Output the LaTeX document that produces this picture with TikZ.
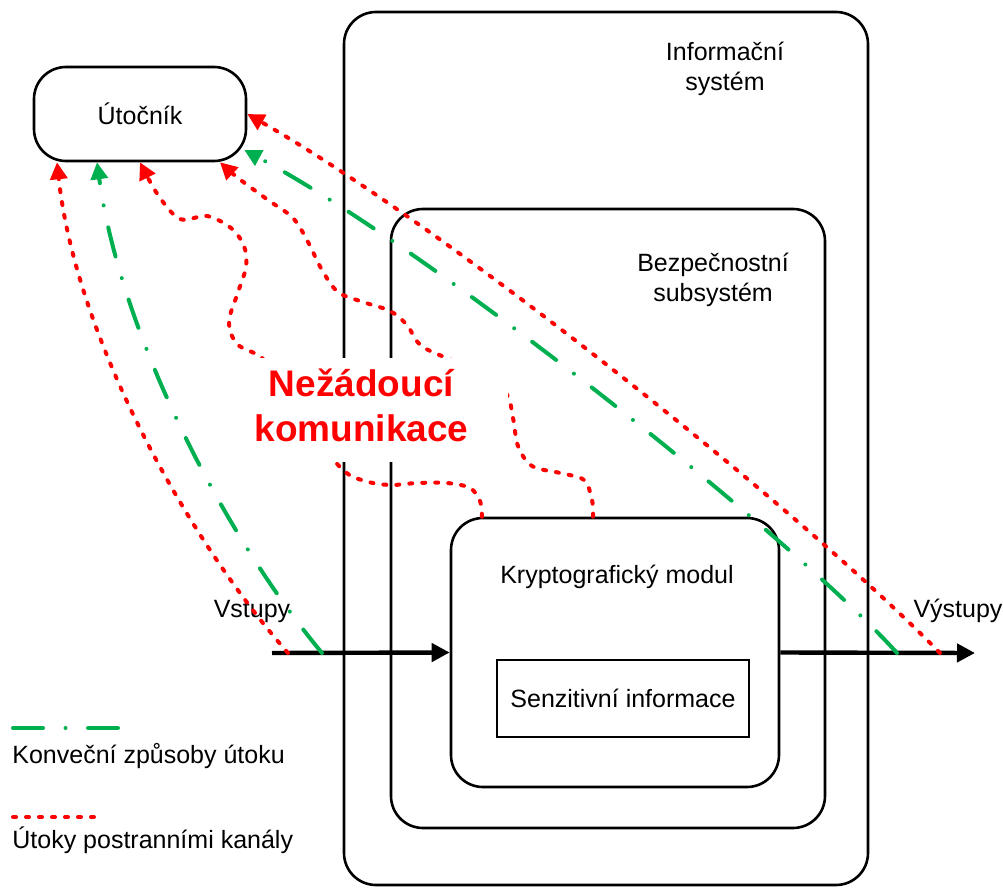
\documentclass[tikz,border=0pt]{standalone}
\usepackage{fontspec}
\setmainfont{Liberation Sans}
\usetikzlibrary{arrows.meta}
\definecolor{convgreen}{RGB}{0,176,80}
\definecolor{sidered}{RGB}{255,0,0}
\begin{document}
\begin{tikzpicture}[
    x=0.5pt, y=-0.5pt,
    font=\fontsize{12.5}{15}\selectfont,
    box/.style={draw, line width=1.3pt, rounded corners=16pt},
    txt/.style={align=center, inner sep=0pt},
    flow/.style={-{Triangle[length=9pt,width=9pt]}, line width=2.2pt},
    atk/.style={-{Triangle[length=8.5pt,width=8.5pt]}},
    convatk/.style={draw=convgreen, line width=2pt, line cap=round,
        dash pattern=on 15pt off 11.25pt on 0pt off 11.25pt},
    sidech/.style={draw=sidered, line width=2pt, line cap=round,
        dash pattern=on 1.5pt off 5pt},
    warn/.style={fill=white, text=sidered, inner xsep=4pt, minimum height=51.5pt,
        font=\fontsize{18.5}{22.5}\selectfont\bfseries}
]
\path[use as bounding box] (0,0) rectangle (1003,888);

% Boxes
\node[box, minimum width=262pt, minimum height=436.5pt] (is) at (606,448.5) {};
\node[box, minimum width=217pt, minimum height=309.5pt] (bs) at (608,518.5) {};
\node[box, fill=white, minimum width=164pt, minimum height=134.5pt] (kmod) at (615,652.5) {};
\node[draw, line width=0.9pt, minimum width=126pt, minimum height=38.5pt] (sens) at (623,698.5) {Senzitivní informace};
\node[box, minimum width=106pt, minimum height=47pt] (att) at (140,114) {Útočník};

% Labels
\node[txt] (istxt) at (725,69) {Informační\\systém};
\node[txt] (bstxt) at (713,280) {Bezpečnostní\\subsystém};
\node[txt, anchor=base] (kmtxt) at (617,583) {Kryptografický modul};
\node[txt, anchor=base] (vin) at (252,617) {Vstupy};
\node[txt, anchor=base] (vout) at (958,617) {Výstupy};

% Inputs / outputs
\coordinate (in) at (272,653);
\coordinate (out) at (975,653);
\draw[flow] (in) -- (kmod.west);
\draw[flow] (kmod.east) -- (out);

% Conventional attacks
\draw[convatk, atk] ([xshift=25pt]in) .. controls (220,530) and (120,330) .. (97,0 |- att.south);
\draw[convatk, atk] ([xshift=-39pt]out) .. controls (800,545) and (440,255) .. ([shift={(-3,36)}]att.east);

% Side channels
\draw[sidech, atk] ([xshift=8pt]in) .. controls (180,530) and (75,330) .. (57,0 |- att.south);
\draw[sidech, atk] ([xshift=-17.5pt]out) .. controls (800,510) and (450,230) .. (att.east);
\draw[sidech, atk] plot[smooth, tension=0.55] coordinates {(482,0 |- kmod.north)
    (480,501) (470,488) (447,483) (417,483) (390,485) (365,481) (343,470)
    (310,430) (280,385) (262,358) (237,344) (229,322) (237,295) (246,267)
    (244,246) (231,228) (207,216) (180,219) (158,195) (140,0 |- att.south)};
\draw[sidech, atk] plot[smooth, tension=0.55] coordinates {(593,0 |- kmod.north)
    (592,500) (584,480) (560,473) (532,466) (518,446) (513,418) (505,392)
    (470,368) (423,347) (407,325) (390,311) (363,302) (338,292) (322,270)
    (308,242) (293,218) (268,200) (238,178) (220,0 |- att.south)};

\node[warn] (nk) at (377.5,410) {\begin{tabular}{@{}c@{}}Nežádoucí\\komunikace\end{tabular}\hspace*{16pt}};

% Legend
\draw[convatk] (13,728) -- (124,728);
\node[txt, anchor=base west] (lconv) at (12,763) {Konveční způsoby útoku};
\draw[sidech] (13,817) -- (100,817);
\node[txt, anchor=base west] (lside) at (12,848) {Útoky postranními kanály};
\end{tikzpicture}
\end{document}
